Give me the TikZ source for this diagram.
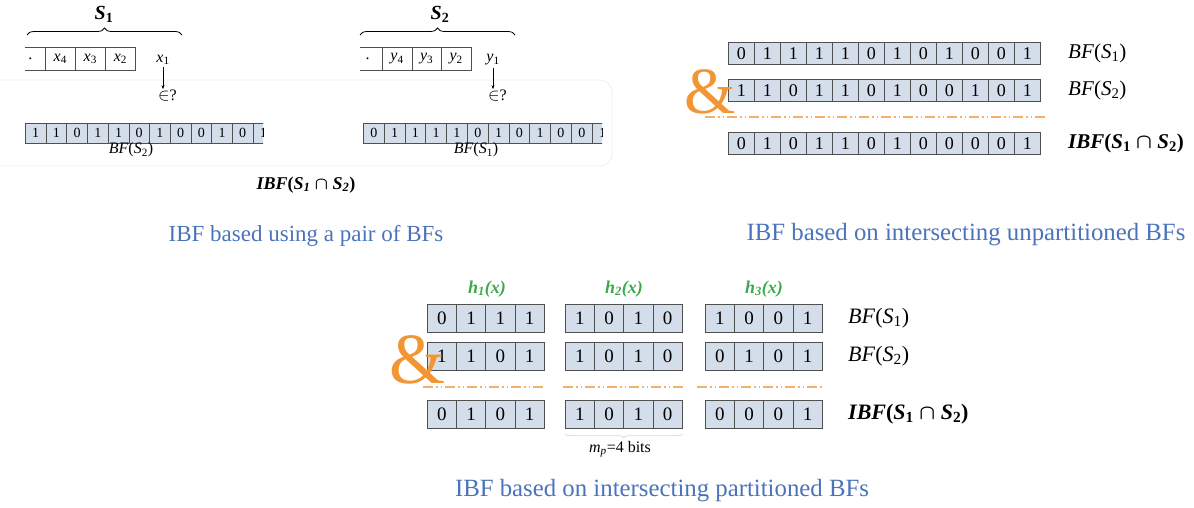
\documentclass[tikz,border=0pt]{standalone}
\usepackage{fontspec}
\setmainfont{Liberation Serif}
\usetikzlibrary{decorations.pathreplacing,arrows.meta}
\definecolor{cellblue}{HTML}{D4DEEA}
\definecolor{celledge}{HTML}{505050}
\definecolor{capblue}{HTML}{4A73BA}
\definecolor{ampor}{HTML}{F29533}
\definecolor{dashor}{HTML}{F4B06A}
\definecolor{hgreen}{HTML}{3BAA4B}
\newcommand{\fs}[1]{\fontsize{#1}{#1}\selectfont}
\newcommand{\bflab}[1]{\textit{BF}(\textit{S}\textsubscript{#1})}
\newcommand{\ibflab}[2]{\textbf{\textit{IBF}(\textit{S}\textsubscript{#1} {\boldmath$\cap$} \textit{S}\textsubscript{#2})}}
\newcommand{\bitrow}[7]{%
  \foreach \b [count=\i from 0] in {#7}
    \node[cell, minimum width=#4pt, minimum height=#5pt, font=\fs{#6}] (#1-\i) at ({#2+\i*#4},{#3}) {\b};}
\tikzset{
  cell/.style={draw=celledge, fill=cellblue, line width=0.7pt, inner sep=0pt, anchor=north west},
  setcell/.style={draw=celledge, fill=white, line width=0.7pt, inner sep=0pt, anchor=north west,
    minimum height=23pt, font=\fs{16}},
  lab/.style={inner sep=0pt},
  caption/.style={inner sep=0pt, text=capblue, font=\fs{24.8}},
  brc/.style={decorate, decoration={brace, amplitude=7pt}, line width=0.8pt},
  andline/.style={draw=dashor, line width=1.4pt, dash pattern=on 10pt off 3pt on 1.5pt off 3pt on 1.5pt off 3pt},
  amp/.style={inner sep=0pt, text=ampor, font=\fs{66}},
  smallarr/.style={-{Stealth[length=4pt,width=3pt]}, line width=0.5pt, shorten >=1pt, shorten <=2pt},
  hlab/.style={inner sep=0pt, text=hgreen, font=\fs{18}\bfseries\itshape}
}
\begin{document}
\begin{tikzpicture}[x=1pt,y=-1pt]
\useasboundingbox (0,0) rectangle (1194,508);
% ---------------- panel 1: pair of BFs ----------------
\draw[black!7, line width=0.8pt, rounded corners=12pt] (-20,80) rectangle (612,166);
% set S1
\node[lab, font=\fs{20}] (S1) at (104,14) {\textbf{\textit{S}\textsubscript{1}}};
\draw[brc] (27,35) -- (182,35);
\begin{scope}
  \clip (25,40) rectangle (140,80);
  \node[setcell, minimum width=30pt] (s1d) at (15,47) {.};
  \node[setcell, minimum width=30pt] (s1x4) at (45,47) {\textit{x}\textsubscript{4}};
  \node[setcell, minimum width=30pt] (s1x3) at (75,47) {\textit{x}\textsubscript{3}};
  \node[setcell, minimum width=30pt] (s1x2) at (105,47) {\textit{x}\textsubscript{2}};
\end{scope}
\node[lab, font=\fs{16}] (x1) at (163,60) {\textit{x}\textsubscript{1}};
\node[lab, font=\fs{16}, anchor=west] (in1) at (158,96) {$\in$?};
\draw[smallarr] (x1.south) -- (x1.south |- in1.north);
\begin{scope}
  \clip (20,110) rectangle (263,150);
  \bitrow{bfa}{25}{123}{20.7}{20}{14}{1,1,0,1,1,0,1,0,0,1,0,1}
\end{scope}
\node[lab, font=\fs{16}] (bfa) at (131,150) {\bflab{2}};
% set S2
\node[lab, font=\fs{20}] (S2) at (440,14) {\textbf{\textit{S}\textsubscript{2}}};
\draw[brc] (360,35) -- (515,35);
\begin{scope}
  \clip (360,40) rectangle (475,80);
  \node[setcell, minimum width=29.5pt] (s2d) at (352.5,47) {.};
  \node[setcell, minimum width=29.5pt] (s2y4) at (382,47) {\textit{y}\textsubscript{4}};
  \node[setcell, minimum width=29.5pt] (s2y3) at (411.5,47) {\textit{y}\textsubscript{3}};
  \node[setcell, minimum width=29.5pt] (s2y2) at (441,47) {\textit{y}\textsubscript{2}};
\end{scope}
\node[lab, font=\fs{16}] (y1) at (493,60) {\textit{y}\textsubscript{1}};
\node[lab, font=\fs{16}, anchor=west] (in2) at (488,96) {$\in$?};
\draw[smallarr] (y1.south) -- (y1.south |- in2.north);
\begin{scope}
  \clip (358,110) rectangle (602,150);
  \bitrow{bfb}{363}{123}{20.8}{20}{14}{0,1,1,1,1,0,1,0,1,0,0,1}
\end{scope}
\node[lab, font=\fs{16}] (bfb) at (476,150) {\bflab{1}};
\node[lab, font=\fs{18}] (ibfa) at (306,185) {\ibflab{\textit{1}}{\textit{2}}};
\node[caption, font=\fs{23}] (cap1) at (306,236) {IBF based using a pair of BFs};
% ---------------- panel 2: unpartitioned ----------------
\bitrow{ua}{728}{42}{26}{22}{18}{0,1,1,1,1,0,1,0,1,0,0,1}
\bitrow{ub}{728}{79}{26}{22}{18}{1,1,0,1,1,0,1,0,0,1,0,1}
\bitrow{uc}{728}{132}{26}{22}{18}{0,1,0,1,1,0,1,0,0,0,0,1}
\node[lab, font=\fs{21}, anchor=west] (ual) at (1068,53) {\bflab{1}};
\node[lab, font=\fs{21}, anchor=west] (ubl) at (1068,90) {\bflab{2}};
\node[lab, font=\fs{21}, anchor=west] (ucl) at (1068,143) {\ibflab{1}{2}};
\coordinate (ud1) at (705,117);
\coordinate (ud2) at (1046,117);
\draw[andline] (ud1) -- (ud2);
\node[amp] (amp1) at (710,92) {\&};
\node[caption] (cap2) at (966,235) {IBF based on intersecting unpartitioned BFs};
% ---------------- panel 3: partitioned ----------------
\node[hlab] (h1) at (487,289) {h\textsubscript{1}(x)};
\node[hlab] (h2) at (624,289) {h\textsubscript{2}(x)};
\node[hlab] (h3) at (764,289) {h\textsubscript{3}(x)};
\bitrow{pa1}{427}{304}{29.2}{28}{19}{0,1,1,1}
\bitrow{pa2}{565}{304}{29.2}{28}{19}{1,0,1,0}
\bitrow{pa3}{705}{304}{29.2}{28}{19}{1,0,0,1}
\bitrow{pb1}{427}{342}{29.2}{28}{19}{1,1,0,1}
\bitrow{pb2}{565}{342}{29.2}{28}{19}{1,0,1,0}
\bitrow{pb3}{705}{342}{29.2}{28}{19}{0,1,0,1}
\bitrow{pc1}{427}{400}{29.2}{28}{19}{0,1,0,1}
\bitrow{pc2}{565}{400}{29.2}{28}{19}{1,0,1,0}
\bitrow{pc3}{705}{400}{29.2}{28}{19}{0,0,0,1}
\node[lab, font=\fs{22}, anchor=west] (pal) at (848,318) {\bflab{1}};
\node[lab, font=\fs{22}, anchor=west] (pbl) at (848,356) {\bflab{2}};
\node[lab, font=\fs{22}, anchor=west] (pcl) at (848,414) {\ibflab{1}{2}};
\coordinate (pd1) at (423,387); \coordinate (pd2) at (545,387);
\coordinate (pd3) at (563,387); \coordinate (pd4) at (685,387);
\coordinate (pd5) at (697,387); \coordinate (pd6) at (822,387);
\draw[andline] (pd1) -- (pd2);
\draw[andline] (pd3) -- (pd4);
\draw[andline] (pd5) -- (pd6);
\node[amp, font=\fs{72}] (amp2) at (417,360) {\&};
\draw[decorate, decoration={brace, amplitude=4pt}, draw=black!15, line width=0.8pt] (pc2-3.south east) ++(0,5) -- ([yshift=-5pt]pc2-0.south west);
\node[lab, font=\fs{16}] (mp) at (620,449) {\textit{m}\textsubscript{\textit{p}}=4 bits};
\node[caption] (cap3) at (662,491) {IBF based on intersecting partitioned BFs};
\end{tikzpicture}
\end{document}
